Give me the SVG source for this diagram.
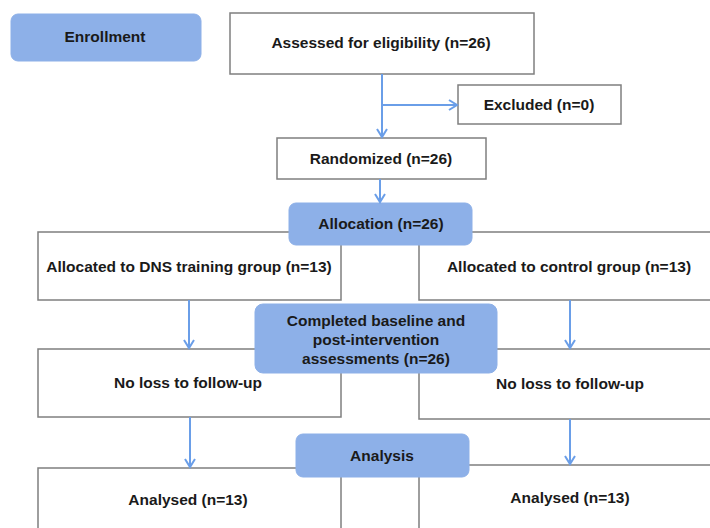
<svg xmlns="http://www.w3.org/2000/svg" width="710" height="528" viewBox="0 0 710 528">
<style>
.box{fill:#ffffff;stroke:#7f7f7f;stroke-width:1.5}
.blue{fill:#8db0e8;stroke:#8db0e8;stroke-width:1}
.t{font-family:"Liberation Sans",Arial,sans-serif;font-size:15.5px;font-weight:bold;fill:#1a1a1a;text-anchor:middle}
.c{fill:none;stroke:#6a9ee8;stroke-width:2}
</style>
<defs>
<marker id="ah" markerWidth="12" markerHeight="12" refX="10" refY="6" orient="auto" markerUnits="userSpaceOnUse">
<path d="M2,1 L10,6 L2,11" fill="none" stroke="#6a9ee8" stroke-width="2"/>
</marker>
</defs>
<rect width="710" height="528" fill="#ffffff"/>
<g id="assessed"><rect class="box" x="230" y="13" width="304" height="61"/><text class="t" x="381" y="48">Assessed for eligibility (n=26)</text></g>
<g id="excluded"><rect class="box" x="458" y="85" width="163" height="39"/><text class="t" x="539" y="110">Excluded (n=0)</text></g>
<g id="randomized"><rect class="box" x="277" y="138" width="209" height="41"/><text class="t" x="381" y="164">Randomized (n=26)</text></g>
<g id="dns"><rect class="box" x="38" y="232" width="303" height="68"/><text class="t" x="189" y="272">Allocated to DNS training group (n=13)</text></g>
<g id="control"><rect class="box" x="419" y="232" width="300" height="68"/><text class="t" x="569" y="272">Allocated to control group (n=13)</text></g>
<g id="noloss-left"><rect class="box" x="38" y="349" width="303" height="68"/><text class="t" x="188" y="388">No loss to follow-up</text></g>
<g id="noloss-right"><rect class="box" x="419" y="349" width="300" height="70"/><text class="t" x="570" y="389">No loss to follow-up</text></g>
<g id="analysed-left"><rect class="box" x="38" y="468" width="303" height="70"/><text class="t" x="188" y="505">Analysed (n=13)</text></g>
<g id="analysed-right"><rect class="box" x="419" y="465" width="300" height="73"/><text class="t" x="570" y="503">Analysed (n=13)</text></g>
<g id="enrollment"><rect class="blue" x="11" y="14" width="190" height="47" rx="7"/><text class="t" x="105" y="42">Enrollment</text></g>
<g id="allocation"><rect class="blue" x="289" y="203" width="183" height="42" rx="7"/><text class="t" x="381" y="229">Allocation (n=26)</text></g>
<g id="completed"><rect class="blue" x="255" y="304" width="242" height="69" rx="8"/><text class="t" x="376" y="326">Completed baseline and</text><text class="t" x="376" y="345">post-intervention</text><text class="t" x="376" y="364">assessments (n=26)</text></g>
<g id="analysis"><rect class="blue" x="296" y="434" width="173" height="43" rx="7"/><text class="t" x="382" y="461">Analysis</text></g>
<g id="connectors">
<path class="c" d="M382,74 V137" marker-end="url(#ah)"/>
<path class="c" d="M382,105 H457" marker-end="url(#ah)"/>
<path class="c" d="M380,179 V202" marker-end="url(#ah)"/>
<path class="c" d="M189,300 V348" marker-end="url(#ah)"/>
<path class="c" d="M570,300 V348" marker-end="url(#ah)"/>
<path class="c" d="M190,417 V467" marker-end="url(#ah)"/>
<path class="c" d="M570,419 V464" marker-end="url(#ah)"/>
</g>
</svg>
